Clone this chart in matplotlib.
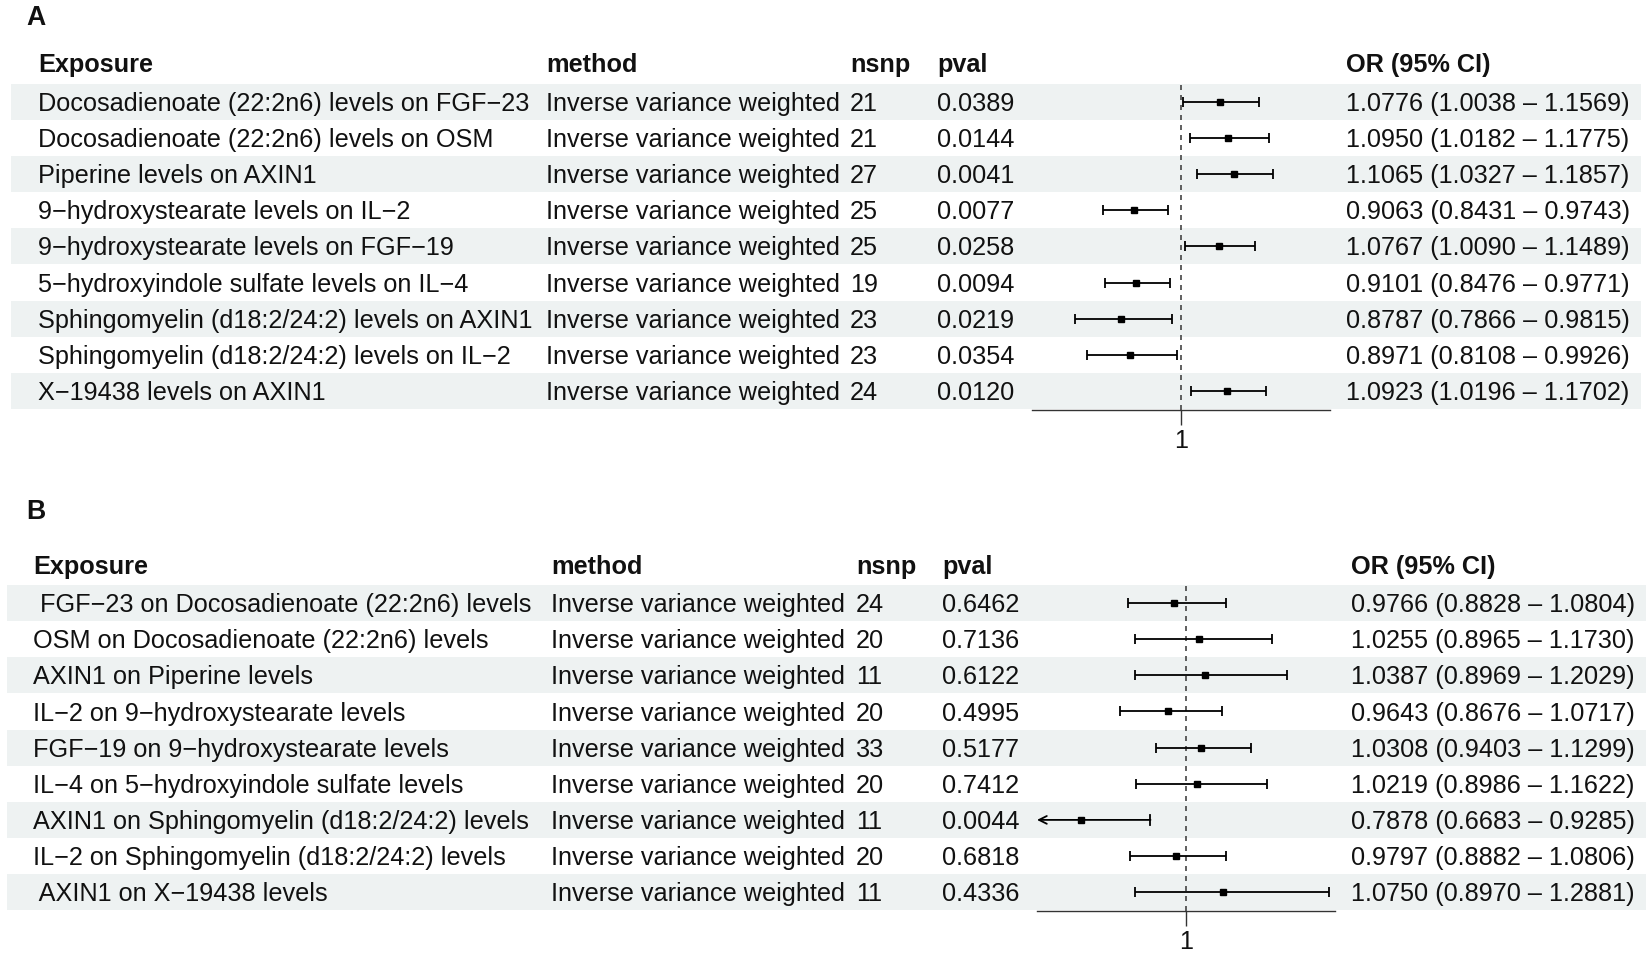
import matplotlib
matplotlib.use("Agg")
import matplotlib.pyplot as plt
import numpy as np

plt.rcParams['font.family'] = ['Liberation Sans', 'DejaVu Sans']

# ---- data: panel A (metabolite -> protein) ----
exp_a = ["Docosadienoate (22:2n6) levels on FGF\u221223",
         "Docosadienoate (22:2n6) levels on OSM",
         "Piperine levels on AXIN1",
         "9\u2212hydroxystearate levels on IL\u22122",
         "9\u2212hydroxystearate levels on FGF\u221219",
         "5\u2212hydroxyindole sulfate levels on IL\u22124",
         "Sphingomyelin (d18:2/24:2) levels on AXIN1",
         "Sphingomyelin (d18:2/24:2) levels on IL\u22122",
         "X\u221219438 levels on AXIN1"]
nsnp_a = [21, 21, 27, 25, 25, 19, 23, 23, 24]
pval_a = [0.0389, 0.0144, 0.0041, 0.0077, 0.0258, 0.0094, 0.0219, 0.0354, 0.0120]
or_a = [1.0776, 1.0950, 1.1065, 0.9063, 1.0767, 0.9101, 0.8787, 0.8971, 1.0923]
lo_a = [1.0038, 1.0182, 1.0327, 0.8431, 1.0090, 0.8476, 0.7866, 0.8108, 1.0196]
hi_a = [1.1569, 1.1775, 1.1857, 0.9743, 1.1489, 0.9771, 0.9815, 0.9926, 1.1702]

# ---- data: panel B (protein -> metabolite) ----
exp_b = [" FGF\u221223 on Docosadienoate (22:2n6) levels",
         "OSM on Docosadienoate (22:2n6) levels",
         "AXIN1 on Piperine levels",
         "IL\u22122 on 9\u2212hydroxystearate levels",
         "FGF\u221219 on 9\u2212hydroxystearate levels",
         "IL\u22124 on 5\u2212hydroxyindole sulfate levels",
         "AXIN1 on Sphingomyelin (d18:2/24:2) levels",
         "IL\u22122 on Sphingomyelin (d18:2/24:2) levels",
         " AXIN1 on X\u221219438 levels"]
nsnp_b = [24, 20, 11, 20, 33, 20, 11, 20, 11]
pval_b = [0.6462, 0.7136, 0.6122, 0.4995, 0.5177, 0.7412, 0.0044, 0.6818, 0.4336]
or_b = [0.9766, 1.0255, 1.0387, 0.9643, 1.0308, 1.0219, 0.7878, 0.9797, 1.0750]
lo_b = [0.8828, 0.8965, 0.8969, 0.8676, 0.9403, 0.8986, 0.6683, 0.8882, 0.8970]
hi_b = [1.0804, 1.1730, 1.2029, 1.0717, 1.1299, 1.1622, 0.9285, 1.0806, 1.2881]

method = "Inverse variance weighted"
headers = ["Exposure", "method", "nsnp", "pval", "OR (95% CI)"]
xlim = (0.7, 1.3)

W, H = 1650, 957
FS = 18.15
TXT = '#111111'
STRIPE = '#eef2f2'

fig = plt.figure(figsize=(W / 100, H / 100), dpi=100)
bg = fig.add_axes([0, 0, 1, 1])
bg.set_xlim(0, W)
bg.set_ylim(H, 0)
bg.axis('off')


def put(x, y, s, bold=False, size=FS):
    # baseline placed so that cap height is centred on the row
    bg.text(x, y + 0.36 * size * 100 / 72.0, s, ha='left', va='baseline',
            fontsize=size, color=TXT, fontweight='bold' if bold else 'normal')


def panel(label, label_y, head_y, row0, step, cols, stripe_x, fx, axis_y,
          exps, nsnp, pvals, ors, los, his):
    put(26, label_y, label, bold=True, size=FS + 1)
    for x, h in zip(cols, headers):
        put(x, head_y, h, bold=True)
    n = len(exps)
    for i in range(n):
        yc = row0 + step * i
        if i % 2 == 0:
            bg.add_patch(plt.Rectangle((stripe_x[0], yc - step / 2),
                                       stripe_x[1] - stripe_x[0], step,
                                       color=STRIPE, lw=0, zorder=0))
        put(cols[0], yc, exps[i])
        put(cols[1], yc, method)
        put(cols[2], yc, str(nsnp[i]))
        put(cols[3], yc, '{:.4f}'.format(pvals[i]))
        put(cols[4], yc, '{:.4f} ({:.4f} \u2013 {:.4f})'.format(ors[i], los[i], his[i]))

    # forest axes
    top = row0 - step / 2
    ybot = (axis_y - row0) / step
    ax = fig.add_axes([fx[0] / W, (H - axis_y) / H, (fx[1] - fx[0]) / W,
                       (axis_y - top) / H])
    ax.set_facecolor('none')
    ax.set_xlim(*xlim)
    ax.set_ylim(ybot, -0.5)
    for s in ['top', 'left', 'right']:
        ax.spines[s].set_visible(False)
    ax.spines['bottom'].set_color('#333333')
    ax.spines['bottom'].set_linewidth(1.0)
    ax.set_yticks([])
    ax.set_xticks([1])
    ax.set_xticklabels(['1'])
    ax.tick_params(axis='x', length=11, width=1.0, color='#333333',
                   labelsize=FS, pad=3, labelcolor=TXT)
    ax.axvline(1, color='#444444', lw=1.2, ls=(0, (3, 3)), zorder=1)
    y = np.arange(n)
    for i in range(n):
        lo, hi = los[i], his[i]
        if lo < xlim[0]:
            ax.annotate('', xy=(xlim[0], y[i]), xytext=(hi, y[i]),
                        arrowprops=dict(arrowstyle='->', lw=1.3, color='black',
                                        shrinkA=0, shrinkB=0, mutation_scale=14))
            ax.plot([hi, hi], [y[i] - 0.14, y[i] + 0.14], color='black', lw=1.3)
        else:
            ax.errorbar(ors[i], y[i], xerr=[[ors[i] - lo], [hi - ors[i]]],
                        fmt='none', ecolor='black', elinewidth=1.3,
                        capsize=3.6, capthick=1.3, zorder=3)
        ax.plot(ors[i], y[i], marker='s', ms=4.6, color='black', zorder=4)
    return ax


panel('A', 15, 63, 102, 36.1, [38, 546, 850, 937, 1346], (11, 1641),
      (1032, 1330), 410, exp_a, nsnp_a, pval_a, or_a, lo_a, hi_a)
panel('B', 509, 565, 603, 36.15, [33, 551, 856, 942, 1351], (7, 1646),
      (1037, 1335), 911, exp_b, nsnp_b, pval_b, or_b, lo_b, hi_b)

fig.savefig('out.png', dpi=100)
